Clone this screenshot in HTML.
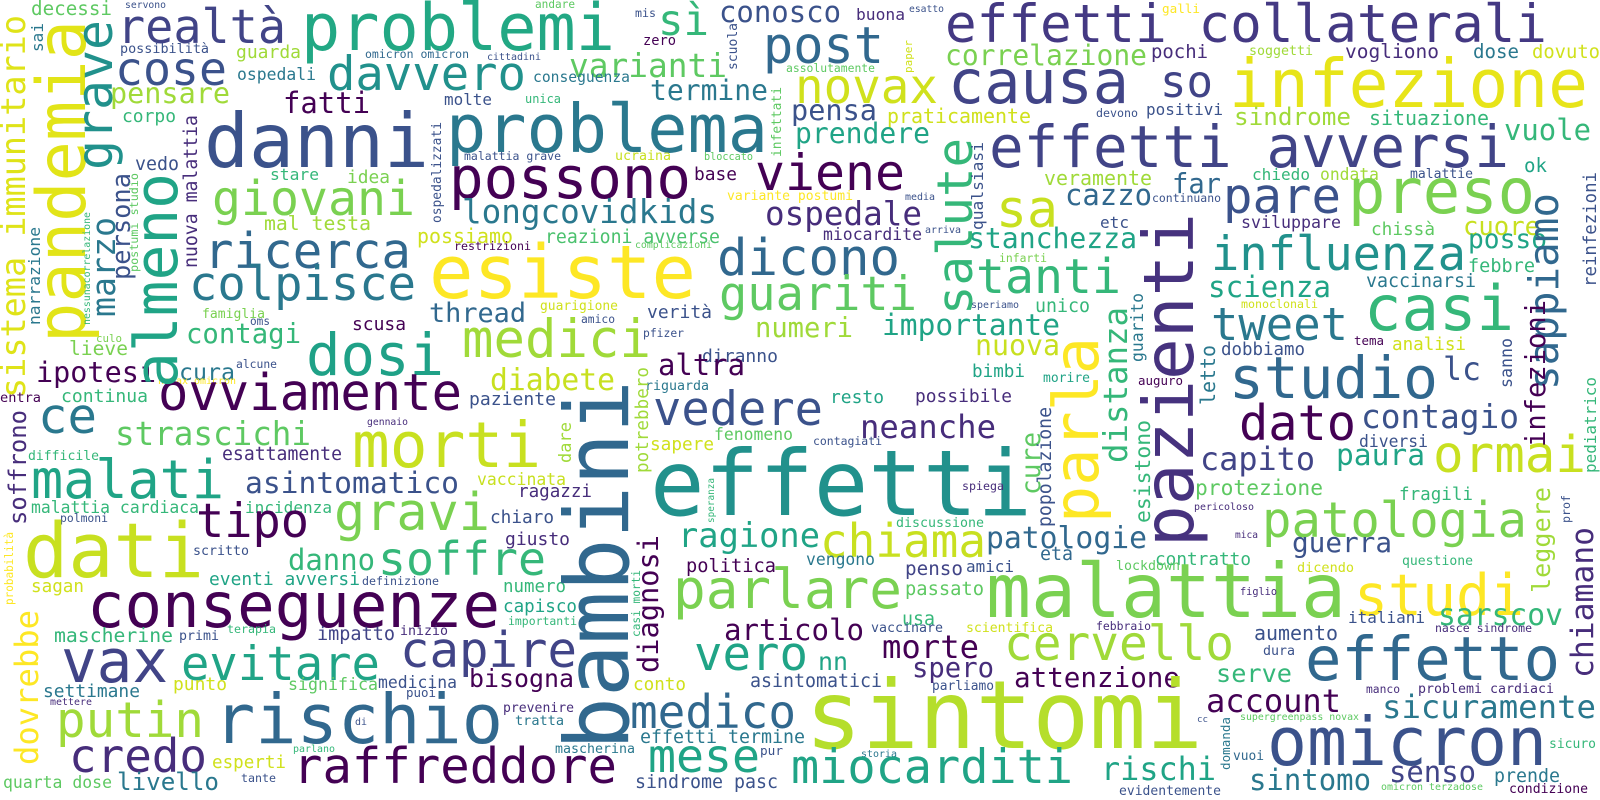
<!DOCTYPE html>
<html><head><meta charset="utf-8"><title>Word cloud</title>
<style>
html,body{margin:0;padding:0;background:#fff;width:1600px;height:800px;overflow:hidden}
svg{display:block}
text{font-family:"DejaVu Sans Mono","Liberation Mono",monospace}
</style></head>
<body>
<svg id="cloud" width="1600" height="800" viewBox="0 0 1600 800" xmlns="http://www.w3.org/2000/svg">
<rect x="0" y="0" width="1600" height="800" fill="#ffffff"/>
</svg>
<script>
// horizontal words: [word, left x, baseline y, width, color]
const hWords = [
["decessi",31,15,81,"#5ec962"],["servono",125,8,41,"#3b528b"],["realtà",117,43,169,"#414487"],
["problemi",301,50,314,"#22a884"],["sì",658,35,51,"#35b779"],["andare",535,8,40,"#5ec962"],
["mis",635,17,21,"#3b528b"],["conosco",719,22,122,"#3b528b"],["cose",115,85,112,"#3b528b"],
["possibilità",120,53,89,"#3b528b"],["guarda",236,58,65,"#a0da39"],["omicron omicron",365,58,104,"#31688e"],
["cittadini",487,60,54,"#3b528b"],["zero",643,45,33,"#440154"],["davvero",327,90,199,"#21918c"],
["varianti",569,77,158,"#5ec962"],["ospedali",237,80,79,"#2a788e"],["conseguenza",533,82,97,"#2a788e"],
["pensare",110,103,120,"#a0da39"],["fatti",283,113,87,"#440154"],["molte",444,105,48,"#3b528b"],
["unica",525,103,36,"#35b779"],["termine",650,100,118,"#2a788e"],["corpo",122,122,54,"#35b779"],
["danni",204,167,225,"#3b528b"],["problema",446,152,322,"#2a788e"],["malattia grave",464,160,97,"#3b528b"],
["ucraina",615,160,56,"#c8e020"],["bloccato",704,160,49,"#5ec962"],["vedo",135,170,44,"#3b528b"],
["stare",270,180,49,"#35b779"],["idea",347,183,43,"#7ad151"],["possono",449,198,242,"#440154"],
["base",694,180,43,"#440154"],["variante postumi",727,200,126,"#fde725"],["giovani",212,215,203,"#7ad151"],
["longcovidkids",462,223,255,"#2a788e"],["mal testa",264,230,107,"#a0da39"],["possiamo",417,243,96,"#d0e11c"],
["reazioni avverse",545,243,175,"#4ac16d"],["restrizioni",454,250,77,"#440154"],["complicazioni",635,248,77,"#5ec962"],
["ricerca",204,268,207,"#31688e"],["colpisce",189,300,227,"#2a788e"],["esiste",429,298,267,"#fde725"],
["thread",429,322,97,"#31688e"],["guarigione",540,310,78,"#d0e11c"],["verità",647,318,65,"#3b528b"],
["famiglia",202,318,63,"#7ad151"],["oms",250,325,20,"#3b528b"],["amico",581,323,34,"#3b528b"],
["scusa",352,330,54,"#440154"],["culo",96,342,26,"#7ad151"],["lieve",69,355,59,"#7ad151"],
["contagi",186,343,115,"#35b779"],["dosi",306,375,138,"#1fa187"],["medici",462,357,189,"#a0da39"],
["pfizer",643,337,41,"#3b528b"],["diranno",702,362,76,"#3b528b"],["altra",658,375,87,"#440154"],
["diabete",490,390,125,"#c8e020"],["ipotesi",36,382,120,"#440154"],["cura",179,380,56,"#2a788e"],
["alcune",236,368,41,"#3b528b"],["novax omicron",158,384,78,"#fde725"],["continua",61,402,87,"#35b779"],
["entra",0,402,41,"#440154"],["ovviamente",158,410,304,"#440154"],["paziente",469,405,87,"#3b528b"],
["riguarda",645,390,64,"#2a788e"],
["buona",856,20,49,"#472d7b"],["esatto",909,12,35,"#3b528b"],["galli",1162,13,38,"#fde725"],
["effetti collaterali",945,42,602,"#443983"],["post",763,63,121,"#31688e"],["assolutamente",786,72,89,"#5ec962"],
["correlazione",945,65,202,"#7ad151"],["pochi",1151,58,57,"#472d7b"],["soggetti",1249,55,64,"#a0da39"],
["vogliono",1345,58,94,"#472d7b"],["dose",1473,58,46,"#2a788e"],["dovuto",1532,58,68,"#d0e11c"],
["novax",795,103,143,"#d0e11c"],["causa",948,103,181,"#414487"],["so",1160,97,53,"#414487"],
["infezione",1229,107,359,"#e7e419"],["devono",1096,117,42,"#3b528b"],["positivi",1146,115,77,"#3b528b"],
["pensa",791,120,86,"#3b528b"],["praticamente",887,123,144,"#d0e11c"],["sindrome",1234,125,117,"#a0da39"],
["situazione",1369,125,120,"#35b779"],["vuole",1504,140,87,"#35b779"],["prendere",795,143,135,"#20a486"],
["effetti avversi",989,167,520,"#414487"],["ok",1524,172,23,"#20a486"],["viene",755,190,150,"#440154"],
["sa",996,227,62,"#c8e020"],["veramente",1044,185,108,"#a0da39"],["far",1172,193,49,"#31688e"],
["chiedo",1252,180,58,"#35b779"],["ondata",1320,180,59,"#a0da39"],["malattie",1410,178,63,"#3b528b"],
["media",905,200,30,"#3b528b"],["cazzo",1065,205,87,"#31688e"],["continuano",1152,202,69,"#3b528b"],
["pare",1223,213,118,"#3b528b"],["preso",1348,213,187,"#7ad151"],["ospedale",765,225,157,"#472d7b"],
["miocardite",823,240,99,"#472d7b"],["arriva",925,233,36,"#3b528b"],["stanchezza",968,248,169,"#20a486"],
["etc",1100,228,29,"#3b528b"],["sviluppare",1241,228,100,"#472d7b"],["chissà",1371,235,64,"#5ec962"],
["cuore",1463,235,77,"#c8e020"],["posso",1468,248,79,"#20a486"],["dicono",717,275,183,"#31688e"],
["influenza",1211,270,255,"#21918c"],["febbre",1468,272,67,"#35b779"],["infarti",999,262,48,"#7ad151"],
["guariti",719,310,198,"#5ec962"],["tanti",976,293,145,"#35b779"],["scienza",1208,297,123,"#20a486"],
["vaccinarsi",1366,287,110,"#2a788e"],["speriamo",971,308,48,"#3b528b"],["unico",1035,312,55,"#35b779"],
["monoclonali",1241,308,77,"#d0e11c"],["casi",1364,330,150,"#35b779"],["tweet",1211,340,137,"#2a788e"],
["importante",882,335,178,"#20a486"],["numeri",755,337,98,"#a0da39"],["nuova",975,355,85,"#c8e020"],
["bimbi",972,377,53,"#20a486"],["morire",1043,382,47,"#20a486"],["possibile",915,402,97,"#472d7b"],
["auguro",1138,385,45,"#440154"],["dobbiamo",1221,355,84,"#3b528b"],["tema",1354,345,30,"#440154"],
["analisi",1392,350,74,"#d0e11c"],["lc",1443,380,38,"#3b528b"],["studio",1229,398,209,"#31688e"],
["resto",830,403,54,"#20a486"],["neanche",860,438,136,"#472d7b"],["contagiati",813,445,69,"#3b528b"],
["effetti",650,515,382,"#21918c"],["spiega",962,490,42,"#472d7b"],["dato",1239,440,117,"#440154"],
["contagio",1361,428,158,"#3b528b"],["diversi",1359,447,69,"#3b528b"],["capito",1200,470,115,"#414487"],
["paura",1336,465,89,"#20a486"],["ormai",1433,472,153,"#c8e020"],["protezione",1195,495,128,"#5ec962"],
["fragili",1399,500,74,"#35b779"],["pericoloso",1194,510,60,"#472d7b"],["discussione",896,527,88,"#35b779"],
["chiama",820,557,166,"#c8e020"],["patologie",986,548,161,"#31688e"],["patologia",1262,537,265,"#7ad151"],
["mica",1235,538,23,"#472d7b"],["guerra",1292,552,100,"#3b528b"],["contratto",1155,565,96,"#35b779"],
["età",1040,560,33,"#31688e"],["vengono",806,565,69,"#2a788e"],["penso",905,575,58,"#414487"],
["amici",966,572,48,"#3b528b"],["lockdown",1116,570,64,"#5ec962"],["dicendo",1297,572,57,"#d0e11c"],
["questione",1402,565,71,"#35b779"],["malattia",986,617,360,"#7ad151"],["studi",1354,615,170,"#fde725"],
["parlare",673,608,229,"#7ad151"],["passato",905,595,79,"#5ec962"],["figlio",1240,595,37,"#472d7b"],
["usa",902,625,33,"#35b779"],["italiani",1348,623,77,"#3b528b"],["sarscov",1438,625,125,"#35b779"],
["articolo",724,640,140,"#440154"],["vaccinare",871,632,72,"#3b528b"],["scientifica",966,632,87,"#d0e11c"],
["febbraio",1096,630,55,"#472d7b"],["nasce sindrome",1435,632,97,"#472d7b"],["aumento",1254,640,84,"#3b528b"],
["cervello",1004,660,230,"#a0da39"],["morte",882,658,97,"#440154"],["dura",1263,655,32,"#3b528b"],
["effetto",1305,680,255,"#31688e"],["vero",694,670,114,"#20a486"],["nn",818,670,30,"#20a486"],
["spero",912,677,82,"#472d7b"],["serve",1216,682,76,"#35b779"],["attenzione",1014,687,166,"#440154"],
["asintomatici",750,687,132,"#3b528b"],["parliamo",932,690,62,"#3b528b"],["manco",1366,693,34,"#472d7b"],
["problemi cardiaci",1418,693,136,"#472d7b"],["sintomi",805,748,398,"#b5de2b"],["account",1206,712,135,"#440154"],
["sicuramente",1382,718,214,"#2a788e"],["supergreenpass novax",1240,720,119,"#5ec962"],["cc",1197,722,11,"#3b528b"],
["omicron",1267,765,280,"#3b528b"],["vuoi",1233,760,31,"#31688e"],["sicuro",1549,748,47,"#35b779"],
["storia",861,757,36,"#2a788e"],["miocarditi",791,783,282,"#20a486"],["rischi",1101,780,115,"#20a486"],
["sintomo",1249,790,122,"#2a788e"],["senso",1389,782,87,"#414487"],["prende",1494,782,66,"#2a788e"],
["condizione",1509,793,79,"#440154"],["omicron terzadose",1381,790,102,"#5ec962"],["evidentemente",1119,795,102,"#3b528b"],
["ce",38,433,59,"#2a788e"],["strascichi",115,445,196,"#5ec962"],["gennaio",367,425,41,"#472d7b"],
["morti",352,467,189,"#c8e020"],["difficile",28,460,71,"#35b779"],["esattamente",222,460,120,"#472d7b"],
["malati",31,498,193,"#20a486"],["asintomatico",245,493,214,"#3b528b"],["vaccinata",477,485,89,"#c8e020"],
["ragazzi",518,497,74,"#472d7b"],["malattia cardiaca",31,513,168,"#35b779"],["incidenza",245,513,87,"#35b779"],
["polmoni",60,522,48,"#3b528b"],["tipo",196,537,113,"#440154"],["gravi",334,530,156,"#7ad151"],
["chiaro",490,523,64,"#3b528b"],["giusto",505,545,65,"#472d7b"],["ragione",678,547,142,"#20a486"],
["dati",23,577,181,"#c8e020"],["scritto",193,555,56,"#3b528b"],["danno",288,570,87,"#35b779"],
["soffre",378,575,168,"#35b779"],["politica",686,572,90,"#440154"],["eventi avversi",209,585,151,"#20a486"],
["definizione",362,585,77,"#3b528b"],["sagan",31,592,53,"#d0e11c"],["conseguenze",87,627,413,"#440154"],
["numero",503,592,63,"#35b779"],["capisco",503,612,74,"#20a486"],["importanti",508,625,69,"#35b779"],
["mascherine",54,642,119,"#35b779"],["primi",179,640,40,"#3b528b"],["terapia",227,633,49,"#35b779"],
["impatto",317,640,78,"#414487"],["inizio",400,635,48,"#472d7b"],["vax",61,682,107,"#414487"],
["evitare",181,680,199,"#20a486"],["capire",400,667,177,"#414487"],["settimane",43,697,97,"#2a788e"],
["punto",173,690,54,"#d0e11c"],["significa",288,690,90,"#5ec962"],["medicina",378,688,79,"#3b528b"],
["bisogna",469,687,105,"#440154"],["conto",633,690,53,"#d0e11c"],["mettere",50,705,42,"#472d7b"],
["puoi",406,697,30,"#3b528b"],["putin",56,737,148,"#a0da39"],["rischio",214,743,289,"#31688e"],
["prevenire",503,712,71,"#472d7b"],["tratta",515,725,49,"#2a788e"],["di",355,725,12,"#3b528b"],
["medico",630,728,166,"#31688e"],["effetti termine",640,743,165,"#2a788e"],["credo",69,772,138,"#472d7b"],
["raffreddore",293,783,324,"#440154"],["mascherina",555,753,80,"#2a788e"],["parlano",293,752,42,"#35b779"],
["esperti",212,768,74,"#d0e11c"],["mese",648,772,112,"#20a486"],["pur",760,755,23,"#3b528b"],
["quarta dose",3,788,109,"#5ec962"],["livello",117,790,102,"#2a788e"],["tante",241,782,35,"#3b528b"],
["sindrome pasc",635,788,143,"#3b528b"],["vedere",653,425,170,"#3b528b"],["fenomeno",714,440,79,"#5ec962"],
["sapere",650,450,64,"#d0e11c"]
];
// vertical words: [word, baseline x, bottom y, length, color]
const vWords = [
["sistema immunitario",25,398,383,"#dfe318"],["pandemia",85,343,323,"#e2e418"],["grave",112,170,150,"#21918c"],
["almeno",177,388,215,"#20a486"],["marzo",115,317,100,"#2a788e"],["persona",130,280,107,"#3b528b"],
["narrazione",40,325,98,"#2a788e"],["nessunacorrelazione",90,325,113,"#35b779"],["postumi studio",138,272,99,"#5ec962"],
["nuova malattia",197,268,153,"#472d7b"],["sai",43,52,29,"#2a788e"],["scuola",737,70,47,"#3b528b"],
["infettati",781,157,70,"#5ec962"],["ospedalizzati",441,223,101,"#3b528b"],["paper",912,73,33,"#d0e11c"],
["salute",972,315,177,"#35b779"],["qualsiasi",983,230,88,"#3b528b"],["reinfezioni",1596,287,115,"#3b528b"],
["pazienti",1193,547,334,"#46327e"],["parla",1098,523,186,"#fde725"],["distanza",1127,463,156,"#35b779"],
["sappiamo",1558,390,197,"#31688e"],["infezioni",1545,447,147,"#440154"],["pediatrico",1596,473,96,"#35b779"],
["sanno",1512,388,50,"#3b528b"],["letto",1215,405,60,"#2a788e"],["guarito",1143,362,69,"#2a788e"],
["cure",1040,495,63,"#5ec962"],["popolazione",1051,527,120,"#3b528b"],["esistono",1150,523,103,"#35b779"],
["leggere",1550,593,106,"#a0da39"],["prof",1570,523,28,"#3b528b"],["chiamano",1593,678,151,"#472d7b"],
["domanda",1230,770,53,"#2a788e"],["soffrono",26,525,115,"#472d7b"],["dare",571,463,41,"#a0da39"],
["speranza",714,523,45,"#35b779"],["diagnosi",658,673,138,"#440154"],["probabilità",13,605,73,"#fde725"],
["casi morti",640,637,67,"#35b779"],["dovrebbe",38,765,155,"#fde725"],["potrebbero",648,473,106,"#a0da39"],
["bambini",628,750,370,"#31688e"]
];
const svg = document.getElementById('cloud');
const NS = 'http://www.w3.org/2000/svg';
function slug(s){return 'word-' + s.replace(/[^a-zA-Z0-9]+/g,'-').toLowerCase();}
hWords.forEach(function(w){
  const t = document.createElementNS(NS,'text');
  const fs = w[3] / (0.6 * w[0].length);
  t.setAttribute('x', w[1]);
  t.setAttribute('y', w[2]);
  t.setAttribute('font-size', fs.toFixed(1));
  t.setAttribute('fill', w[4]);
  t.setAttribute('textLength', w[3]);
  t.setAttribute('lengthAdjust', 'spacingAndGlyphs');
  
  
  t.textContent = w[0];
  svg.appendChild(t);
});
vWords.forEach(function(w){
  const t = document.createElementNS(NS,'text');
  const fs = w[3] / (0.6 * w[0].length);
  t.setAttribute('x', 0);
  t.setAttribute('y', 0);
  t.setAttribute('transform', 'translate(' + w[1] + ',' + w[2] + ') rotate(-90)');
  t.setAttribute('font-size', fs.toFixed(1));
  t.setAttribute('fill', w[4]);
  t.setAttribute('textLength', w[3]);
  t.setAttribute('lengthAdjust', 'spacingAndGlyphs');
  
  
  t.textContent = w[0];
  svg.appendChild(t);
});
</script>
</body></html>
